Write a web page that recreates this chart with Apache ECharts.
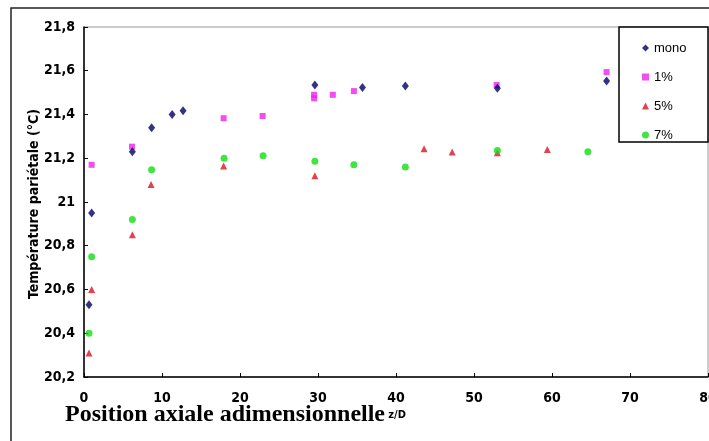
<!DOCTYPE html>
<html><head><meta charset="utf-8">
<script src="https://cdn.jsdelivr.net/npm/echarts@6/dist/echarts.min.js"></script>
<style>html,body{margin:0;padding:0;background:#fff}#c{width:709px;height:441px}</style>
</head><body><div id="c"></div>
<script>
const seriesNames = ['mono', '1%', '5%', '7%'];
const monoX = [0.98, 0.64, 6.2, 8.67, 11.3, 12.7, 29.6, 35.7, 41.2, 53.0, 67.0];
const monoY = [20.95, 20.53, 21.23, 21.34, 21.40, 21.417, 21.535, 21.524, 21.53, 21.52, 21.553];
const p1X = [0.98, 6.15, 17.9, 22.9, 29.5, 29.5, 31.9, 34.6, 52.9, 67.0];
const p1Y = [21.17, 21.253, 21.383, 21.393, 21.49, 21.474, 21.49, 21.507, 21.535, 21.594];
const p5X = [0.64, 0.98, 6.2, 8.6, 17.9, 29.6, 43.6, 47.2, 53.0, 59.4];
const p5Y = [20.31, 20.60, 20.85, 21.08, 21.165, 21.12, 21.244, 21.229, 21.225, 21.24];
const p7X = [0.64, 0.98, 6.2, 8.67, 17.96, 22.96, 29.6, 34.6, 41.2, 53.0, 64.6];
const p7Y = [20.40, 20.75, 20.92, 21.148, 21.2, 21.212, 21.186, 21.17, 21.16, 21.235, 21.23];
const xTicks = [0, 10, 20, 30, 40, 50, 60, 70, 80];
const yTicks = [20.2, 20.4, 20.6, 20.8, 21, 21.2, 21.4, 21.6, 21.8];
const xTitle = 'Position axiale adimensionnelle';
const xTitleUnit = 'z/D';
const yTitle = 'Température pariétale (°C)';

const pair = (xs, ys) => xs.map((x, i) => [x, ys[i]]);
const narrow = "'Liberation Sans Narrow', 'DejaVu Sans Condensed', 'Liberation Sans', sans-serif";

const chart = echarts.init(document.getElementById('c'));
chart.setOption({
  animation: false,
  backgroundColor: '#fff',
  grid: { left: 84, top: 27, right: 1, bottom: 64, show: true, borderColor: '#999', borderWidth: 1, containLabel: false, outerBoundsMode: 'none' },
  xAxis: {
    type: 'value', min: xTicks[0], max: xTicks[xTicks.length - 1], interval: 10,
    axisLine: { lineStyle: { color: '#000', width: 1.5 } },
    axisTick: { inside: true, length: 4, lineStyle: { color: '#000' } },
    splitLine: { show: false },
    axisLabel: { margin: 14, color: '#000', fontWeight: 'bold', fontSize: 14, fontFamily: narrow, hideOverlap: false }
  },
  yAxis: {
    type: 'value', min: yTicks[0], max: yTicks[yTicks.length - 1], interval: 0.2,
    axisLine: { show: true, lineStyle: { color: '#000', width: 1.5 } },
    axisTick: { show: true, inside: true, length: 4, lineStyle: { color: '#000' } },
    splitLine: { show: false },
    axisLabel: { margin: 9, color: '#000', fontWeight: 'bold', fontSize: 14, fontFamily: narrow,
      formatter: v => String(Math.round(v * 10) / 10).replace('.', ',') }
  },
  legend: {
    orient: 'vertical', left: 637, top: 36, itemWidth: 7, itemHeight: 7, itemGap: 15,
    textStyle: { color: '#000', fontSize: 13, lineHeight: 14, fontFamily: "'Liberation Sans', Arial, sans-serif" },
    data: seriesNames
  },
  graphic: [
    { type: 'polyline', shape: { points: [[11, 441], [11, 8], [709, 8]] }, style: { stroke: '#222', lineWidth: 1.5, fill: null }, z: 0 },
    { type: 'rect', shape: { x: 619, y: 27, width: 89, height: 115 }, style: { fill: '#fff', stroke: '#000', lineWidth: 1.5 }, z: 1 },
    { type: 'text', x: 34, y: 204, rotation: Math.PI / 2, style: {
        text: yTitle, align: 'center', verticalAlign: 'middle',
        font: "bold 14px " + narrow, fill: '#000'
      }
    },
    { type: 'text', left: 65, top: 403, style: {
        text: '{a|' + xTitle + '} {b|' + xTitleUnit + '}',
        rich: {
          a: { fontFamily: "'Liberation Serif', 'Times New Roman', serif", fontWeight: 'bold', fontSize: 24, fill: '#000' },
          b: { fontFamily: narrow, fontWeight: 'bold', fontSize: 11, fill: '#000' }
        }
      }
    }
  ],
  series: [
    { name: seriesNames[0], type: 'scatter', symbol: 'diamond', symbolSize: [7, 9], itemStyle: { color: '#000066' }, data: pair(monoX, monoY), z: 5 },
    { name: seriesNames[1], type: 'scatter', symbol: 'rect', symbolSize: 6, itemStyle: { color: '#ee22ee' }, data: pair(p1X, p1Y), z: 4 },
    { name: seriesNames[2], type: 'scatter', symbol: 'triangle', symbolSize: 7, itemStyle: { color: '#dd1122' }, data: pair(p5X, p5Y), z: 3 },
    { name: seriesNames[3], type: 'scatter', symbol: 'circle', symbolSize: 7, itemStyle: { color: '#11dd11' }, data: pair(p7X, p7Y), z: 3 }
  ]
});
</script></body></html>
